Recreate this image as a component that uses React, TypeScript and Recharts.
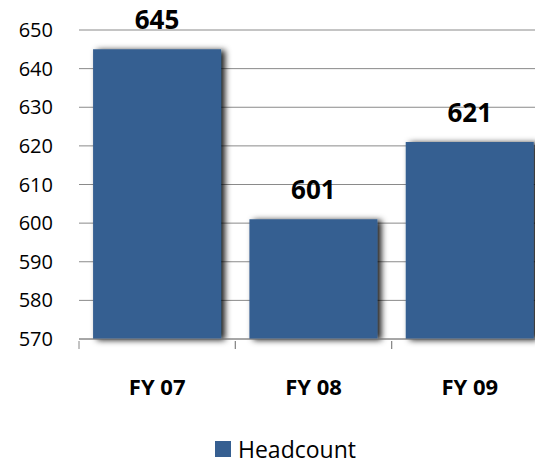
import React from "react";
import {
  BarChart,
  Bar,
  XAxis,
  YAxis,
  CartesianGrid,
  Legend,
  LabelList,
} from "recharts";

const years = ["FY 07", "FY 08", "FY 09"];
const headcount = [645, 601, 621];
const yTicks = [570, 580, 590, 600, 610, 620, 630, 640, 650];

const data = years.map((year, i) => ({ year, Headcount: headcount[i] }));

const W = 535;
const H = 464;
const LEFT = 79;
const RIGHT = -13;
const BAR_COLOR = "#365F91";
const FONT = "'Open Sans', 'Liberation Sans', sans-serif";
const HALF_BAND = (W - LEFT - RIGHT) / years.length / 2;

function YearTick(props: any) {
  const { x, y, payload } = props;
  return (
    <g>
      <line x1={x - HALF_BAND} y1={y} x2={x - HALF_BAND} y2={y + 8} stroke="#888" />
      <line x1={x + HALF_BAND} y1={y} x2={x + HALF_BAND} y2={y + 8} stroke="#888" />
      <text
        x={x}
        y={y + 45}
        textAnchor="middle"
        dominantBaseline="central"
        fontSize={22}
        fontWeight="bold"
        fill="#000"
        fontFamily={FONT}
      >
        {payload.value}
      </text>
    </g>
  );
}

function LegendBox() {
  return (
    <div
      style={{
        height: 30,
        display: "flex",
        justifyContent: "center",
        alignItems: "center",
        fontFamily: FONT,
        fontSize: 23,
        lineHeight: "30px",
        color: "#000",
        paddingLeft: 23,
        whiteSpace: "nowrap",
      }}
    >
      <span style={{ width: 16, height: 16, background: BAR_COLOR, marginRight: 7, display: "inline-block" }} />
      Headcount
    </div>
  );
}

export default function App() {
  return (
    <div style={{ position: "absolute", left: 0, top: 0, width: W, height: H, background: "#fff", overflow: "hidden" }}>
      <BarChart
        width={W}
        height={H}
        data={data}
        margin={{ top: 30, right: RIGHT, left: 0, bottom: 0 }}
        barCategoryGap="9%"
        style={{ overflow: "hidden" }}
      >
        <defs>
          <filter id="barShadow" x="-10%" y="-10%" width="130%" height="130%">
            <feDropShadow dx={4} dy={1} stdDeviation={3} floodColor="#000" floodOpacity={0.9} />
          </filter>
        </defs>
        <CartesianGrid vertical={false} stroke="#8a8a8a" strokeWidth={1} />
        <XAxis
          dataKey="year"
          axisLine={{ stroke: "#888", strokeWidth: 1 }}
          tickLine={false}
          tickSize={0}
          height={95}
          tick={<YearTick />}
          interval={0}
        />
        <YAxis
          domain={[570, 650]}
          ticks={yTicks}
          width={LEFT}
          axisLine={false}
          tickLine={false}
          tickSize={0}
          tickMargin={26}
          tick={{ fill: "#000", fontSize: 20, fontFamily: FONT }}
          interval={0}
        />
        <Legend verticalAlign="bottom" content={<LegendBox />} />
        <Bar
          dataKey="Headcount"
          fill={BAR_COLOR}
          isAnimationActive={false}
          filter="url(#barShadow)"
        >
          <LabelList
            dataKey="Headcount"
            position="top"
            offset={20}
            fill="#000"
            fontSize={26}
            fontWeight="bold"
            fontFamily={FONT}
          />
        </Bar>
      </BarChart>
    </div>
  );
}
